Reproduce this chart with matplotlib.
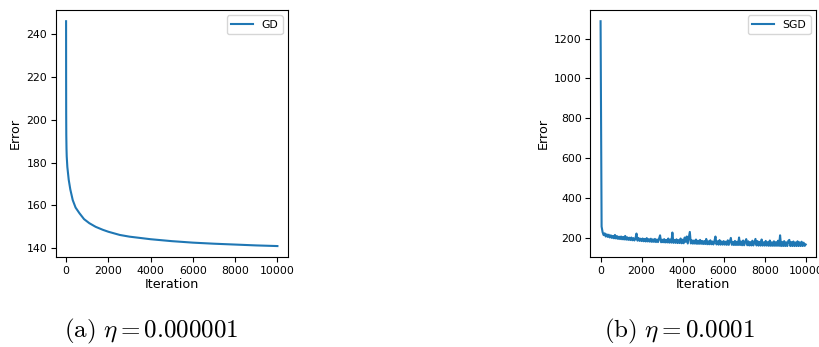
import numpy as np
import matplotlib
matplotlib.use("Agg")
import matplotlib.pyplot as plt

plt.rcParams["mathtext.fontset"] = "cm"

# Full-batch gradient descent error curve (iteration, error)
gd_iter = [0, 2, 5, 10, 20, 30, 60, 125, 200, 315, 450, 630, 850, 1100,
           1400, 1740, 2000, 2540, 3000, 3500, 4000, 5000, 6000, 7000,
           8000, 9000, 10000]
gd_error = [246.2, 220.0, 203.0, 193.0, 186.5, 183.0, 178.0, 172.0, 167.5,
            162.5, 159.0, 156.4, 153.6, 151.7, 150.0, 148.6, 147.7, 146.2,
            145.4, 144.8, 144.2, 143.3, 142.6, 142.1, 141.7, 141.3, 141.0]

# Stochastic gradient descent error, logged every 50 iterations
sgd_iter = np.arange(0, 10001, 50)
sgd_error = [
    1287, 255, 226, 212, 221, 205, 216, 203, 214, 200,
    211, 198, 208, 196, 213, 195, 207, 193, 204, 192,
    205, 191, 203, 190, 208, 189, 201, 188, 199, 187,
    200, 186, 197, 185, 196, 220, 184, 198, 183, 194,
    182, 195, 181, 193, 180, 197, 180, 192, 179, 194,
    178, 191, 178, 193, 177, 190, 177, 194, 211, 176,
    189, 176, 192, 175, 188, 175, 195, 174, 190, 174,
    225, 173, 188, 173, 191, 172, 187, 172, 195, 171,
    189, 171, 200, 178, 205, 170, 199, 228, 170, 186,
    169, 185, 169, 190, 168, 184, 168, 188, 168, 183,
    167, 182, 167, 193, 166, 181, 166, 186, 166, 180,
    165, 183, 205, 165, 181, 164, 187, 164, 180, 164,
    182, 164, 179, 163, 186, 163, 181, 198, 163, 178,
    162, 183, 162, 179, 162, 200, 162, 180, 161, 185,
    161, 178, 192, 161, 181, 160, 177, 160, 184, 160,
    177, 193, 160, 182, 159, 178, 159, 190, 159, 176,
    159, 183, 159, 177, 158, 185, 158, 176, 158, 181,
    158, 177, 158, 184, 158, 211, 157, 178, 157, 182,
    157, 176, 157, 183, 188, 157, 177, 157, 180, 157,
    175, 157, 181, 157, 176, 157, 179, 157, 174, 158,
    165,
]

captions = [r"$\mathrm{(a)}\ \eta = 0.000001$", r"$\mathrm{(b)}\ \eta = 0.0001$"]

fig = plt.figure(figsize=(8.2, 3.47), dpi=100)
ax1 = fig.add_axes([0.0677, 0.2585, 0.2835, 0.7127])
ax2 = fig.add_axes([0.7199, 0.2585, 0.2752, 0.7127])

color = "#1f77b4"
ax1.plot(gd_iter, gd_error, color=color, lw=1.5, label="GD")
ax2.plot(sgd_iter, sgd_error, color=color, lw=1.5, label="SGD")

for ax in (ax1, ax2):
    ax.set_xlabel("Iteration", fontsize=9.2, labelpad=1.5)
    ax.set_ylabel("Error", fontsize=9.2, labelpad=3)
    ax.tick_params(labelsize=7.8, length=3.5, pad=2.5)
    ax.set_xticks([0, 2000, 4000, 6000, 8000, 10000])
    ax.legend(loc="upper right", fontsize=7.8)

ax1.set_yticks([140, 160, 180, 200, 220, 240])
ax2.set_yticks([200, 400, 600, 800, 1000, 1200])

fig.text(151 / 820, 0.046, captions[0], fontsize=18, ha="center", va="center")
fig.text(679 / 820, 0.046, captions[1], fontsize=18, ha="center", va="center")

fig.savefig("out.png", dpi=100)
